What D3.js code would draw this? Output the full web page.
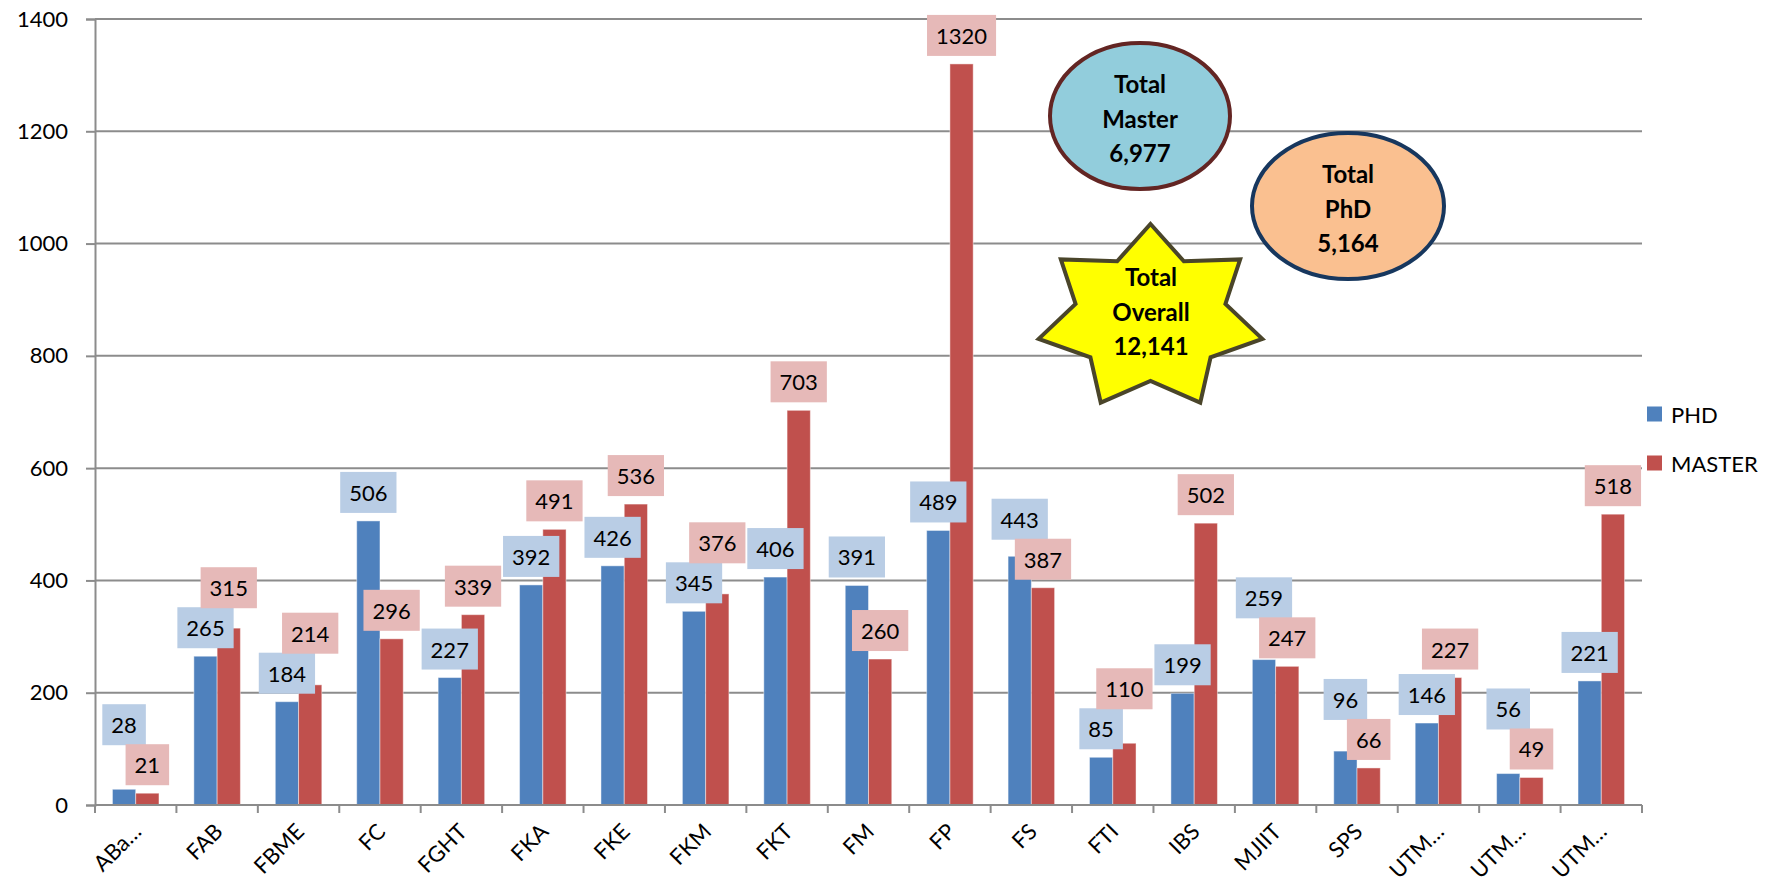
<!DOCTYPE html>
<html>
<head>
<meta charset="utf-8">
<script src="https://cdn.jsdelivr.net/npm/d3@7"></script>
<style>
  body { margin: 0; background: #fff; }
  svg text { font-family: Lato, "Open Sans", sans-serif; }
</style>
</head>
<body>
<svg id="chart" width="1781" height="889"></svg>
<script>
// faculties, in the order they appear on the x axis
const categories = ["ABa…", "FAB", "FBME", "FC", "FGHT", "FKA", "FKE", "FKM", "FKT", "FM",
  "FP", "FS", "FTI", "IBS", "MJIIT", "SPS", "UTM…", "UTM…", "UTM…"]
const phdValues = [28, 265, 184, 506, 227, 392, 426, 345, 406, 391, 489, 443, 85, 199, 259, 96, 146, 56, 221]
const masterValues = [21, 315, 214, 296, 339, 491, 536, 376, 703, 260, 1320, 387, 110, 502, 247, 66, 227, 49, 518]
const seriesNames = ["PHD", "MASTER"]
const yTicks = [0, 200, 400, 600, 800, 1000, 1200, 1400]

// layout
const plotLeft = 95, plotRight = 1642, plotTop = 19, plotBottom = 805
const gridColor = "#8c8c8c"
const barColors = ["#4f81bd", "#c0504d"]
const boxColors = ["#b9cde5", "#e6b9b8"]
const labelFont = 22

const svg = d3.select("#chart")

const x = d3.scaleBand()
  .domain(d3.range(categories.length))
  .range([plotLeft, plotRight])
  .padding(0)

const xInner = d3.scaleBand()
  .domain([0, 1])
  .range([0, x.bandwidth()])
  .paddingInner(0)
  .paddingOuter(0.75)

const y = d3.scaleLinear()
  .domain([0, 1400])
  .range([plotBottom, plotTop])

// horizontal gridlines
svg.append("g")
  .selectAll("line")
  .data(yTicks.filter(d => d > 0))
  .join("line")
  .attr("x1", plotLeft).attr("x2", plotRight)
  .attr("y1", d => y(d)).attr("y2", d => y(d))
  .attr("stroke", gridColor).attr("stroke-width", 2)

// y axis
const yAxis = svg.append("g")
  .attr("transform", `translate(${plotLeft},0)`)
  .call(d3.axisLeft(y).tickValues(yTicks).tickSize(9).tickPadding(18).tickFormat(d3.format("d")))
yAxis.select(".domain").attr("stroke", gridColor).attr("stroke-width", 2)
yAxis.selectAll(".tick line").attr("stroke", gridColor).attr("stroke-width", 2)
yAxis.selectAll(".tick text")
  .attr("font-size", labelFont)
  .attr("font-family", "Lato, sans-serif")
  .attr("fill", "#000")

// bars
const series = [phdValues, masterValues]
series.forEach((values, s) => {
  svg.append("g")
    .selectAll("rect")
    .data(values)
    .join("rect")
    .attr("x", (d, i) => x(i) + xInner(s))
    .attr("width", xInner.bandwidth())
    .attr("y", d => y(d))
    .attr("height", d => y(0) - y(d))
    .attr("fill", barColors[s])
    .attr("stroke", "rgba(255,255,255,0.45)")
    .attr("stroke-width", 1)
})

// x axis line + ticks at category boundaries
svg.append("line")
  .attr("x1", plotLeft).attr("x2", plotRight)
  .attr("y1", plotBottom).attr("y2", plotBottom)
  .attr("stroke", gridColor).attr("stroke-width", 2)
svg.append("g")
  .selectAll("line")
  .data(d3.range(categories.length + 1))
  .join("line")
  .attr("x1", i => plotLeft + i * x.step()).attr("x2", i => plotLeft + i * x.step())
  .attr("y1", plotBottom).attr("y2", plotBottom + 8)
  .attr("stroke", gridColor).attr("stroke-width", 2)

// category labels, rotated
svg.append("g")
  .selectAll("text")
  .data(categories)
  .join("text")
  .attr("transform", (d, i) => `translate(${x(i) + x.bandwidth() / 2 + 7},${plotBottom + 28}) rotate(-45)`)
  .attr("text-anchor", "end")
  .attr("font-size", labelFont)
  .text(d => d)

// data labels: boxed, the larger value of a pair is lifted above the other when they collide
const boxH = 41, boxGap = 8, padX = 9
const labelLayer = svg.append("g")
const measure = svg.append("text").attr("font-size", labelFont)
const labels = []
categories.forEach((c, i) => {
  const pair = series.map((values, s) => {
    measure.text(values[i])
    const w = measure.node().getComputedTextLength() + padX * 2
    const cx = x(i) + xInner(s) + xInner.bandwidth() / 2
    return { s, v: values[i], cx, w, bottom: y(values[i]) - boxGap }
  })
  const [a, b] = pair
  if (Math.abs(a.bottom - b.bottom) < boxH) {
    const hi = a.v >= b.v ? a : b
    const lo = hi === a ? b : a
    hi.bottom = Math.min(hi.bottom, lo.bottom - boxH + 1)
  }
  labels.push(...pair)
})
measure.remove()

labels.sort((p, q) => p.s - q.s)
const lab = labelLayer.selectAll("g").data(labels).join("g")
lab.append("rect")
  .attr("x", d => d.cx - d.w / 2)
  .attr("y", d => d.bottom - boxH)
  .attr("width", d => d.w)
  .attr("height", boxH)
  .attr("fill", d => boxColors[d.s])
lab.append("text")
  .attr("x", d => d.cx)
  .attr("y", d => d.bottom - boxH / 2)
  .attr("text-anchor", "middle")
  .attr("dominant-baseline", "central")
  .attr("font-size", labelFont)
  .attr("fill", "#000")
  .text(d => d.v)

// legend
const legend = svg.append("g")
seriesNames.forEach((name, s) => {
  const ly = 414 + s * 49
  legend.append("rect")
    .attr("x", 1647).attr("y", ly - 7.5)
    .attr("width", 15).attr("height", 15)
    .attr("fill", barColors[s])
  legend.append("text")
    .attr("x", 1671).attr("y", ly)
    .attr("dominant-baseline", "central")
    .attr("font-size", labelFont)
    .text(name)
})

// totals callouts
const fmt = d3.format(",")
const totalPhd = d3.sum(phdValues)
const totalMaster = d3.sum(masterValues)

function callText(g, cx, cy, lines) {
  lines.forEach((t, k) => {
    g.append("text")
      .attr("x", cx)
      .attr("y", cy + (k - 1) * 34.5)
      .attr("text-anchor", "middle")
      .attr("dominant-baseline", "central")
      .attr("font-size", 24)
      .attr("font-weight", 700)
      .text(t)
  })
}

const shapes = svg.append("g")
shapes.append("ellipse")
  .attr("cx", 1140).attr("cy", 116).attr("rx", 90).attr("ry", 73)
  .attr("fill", "#92cddc").attr("stroke", "#632523").attr("stroke-width", 4)
callText(shapes, 1140, 118, ["Total", "Master", fmt(totalMaster)])

shapes.append("ellipse")
  .attr("cx", 1348).attr("cy", 206).attr("rx", 96).attr("ry", 73)
  .attr("fill", "#fac090").attr("stroke", "#17375e").attr("stroke-width", 4)
callText(shapes, 1348, 208, ["Total", "PhD", fmt(totalPhd)])

// seven pointed star, slightly stretched sideways
const starCx = 1150.5, starCy = 318, outerR = 94, innerR = 63, stretch = 1.22
const starPts = d3.range(14).map(k => {
  const r = k % 2 === 0 ? outerR : innerR
  const a = k * Math.PI / 7
  return [starCx + Math.sin(a) * r * stretch, starCy - Math.cos(a) * r]
})
shapes.append("path")
  .attr("d", d3.line()(starPts) + "Z")
  .attr("fill", "#ffff00").attr("stroke", "#4a452a").attr("stroke-width", 4)
  .attr("stroke-linejoin", "miter")
callText(shapes, 1151, 311, ["Total", "Overall", fmt(totalPhd + totalMaster)])
</script>
</body>
</html>
